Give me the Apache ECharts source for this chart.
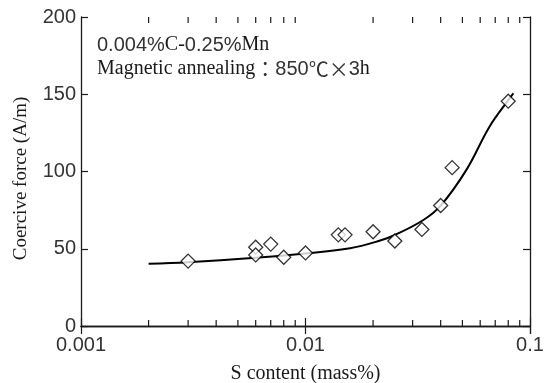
<!DOCTYPE html>
<html>
<head>
<meta charset="utf-8">
<script src="https://cdn.jsdelivr.net/npm/echarts@6/dist/echarts.min.js"></script>
<style>
  html, body { margin: 0; padding: 0; background: #fff; }
  #chart { width: 548px; height: 383px; }
</style>
</head>
<body>
<div id="chart"></div>
<script>
// measured points (S content in mass%, coercive force in A/m)
const sContent = [0.003, 0.006, 0.006, 0.007, 0.008, 0.01, 0.014, 0.015, 0.02, 0.025, 0.033, 0.04, 0.045, 0.08]
const coerciveForce = [42, 51, 46, 53, 44.5, 47.3, 59, 59, 61, 55, 62.5, 78, 102.5, 145.5]

// hand-drawn trend curve
const curveS = [0.002, 0.003, 0.006, 0.01, 0.0158, 0.0215, 0.025, 0.0335, 0.04, 0.052, 0.066, 0.08, 0.0843]
const curveForce = [40.3, 41.3, 44.2, 47, 50.3, 55.3, 58.9, 68.6, 77.9, 100.9, 129, 146.2, 150.6]

// minor ticks of the log axis
const minorTicksX = [0.002, 0.003, 0.004, 0.005, 0.006, 0.007, 0.008, 0.009,
  0.02, 0.03, 0.04, 0.05, 0.06, 0.07, 0.08, 0.09]

const X_MIN = 0.001, X_MAX = 0.1
const Y_MIN = 0, Y_MAX = 200, Y_STEP = 50

const SANS = "'Liberation Sans', Arial, sans-serif"
const SERIF = "'Liberation Serif', 'Times New Roman', serif"
const CJK = "'Noto Sans CJK JP', sans-serif"
const INK = '#1a1a1a'
const NUM = '#333'

const chart = echarts.init(document.getElementById('chart'), null, { renderer: 'canvas' })

const axisLine = { show: true, lineStyle: { color: INK, width: 1.3 } }

const option = {
  animation: false,
  backgroundColor: '#fff',
  grid: { left: 81, right: 18, top: 17, bottom: 57, containLabel: false, outerBoundsMode: 'none' },
  xAxis: [
    {
      type: 'log', logBase: 10, min: X_MIN, max: X_MAX,
      position: 'bottom',
      axisLine,
      axisTick: { show: true, inside: true, length: 8, lineStyle: { color: INK, width: 1.2 } },
      axisLabel: {
        color: NUM, fontFamily: SANS, fontSize: 20, margin: 9,
        formatter: v => String(Number(v.toPrecision(2)))
      },
      splitLine: { show: false },
      name: 'S content (mass%)',
      nameLocation: 'middle', nameGap: 38, nameMoveOverlap: false,
      nameTextStyle: { color: INK, fontFamily: SERIF, fontSize: 20 }
    },
    {
      type: 'log', logBase: 10, min: X_MIN, max: X_MAX,
      position: 'top',
      axisLine,
      axisTick: { show: true, inside: true, length: 8, lineStyle: { color: INK, width: 1.2 } },
      axisLabel: { show: false },
      splitLine: { show: false }
    }
  ],
  yAxis: [
    {
      type: 'value', min: Y_MIN, max: Y_MAX, interval: Y_STEP,
      position: 'left',
      axisLine,
      axisTick: { show: true, inside: true, length: 7, lineStyle: { color: INK, width: 1.2 } },
      axisLabel: { color: NUM, fontFamily: SANS, fontSize: 20, margin: 5 },
      splitLine: { show: false },
      name: 'Coercive force (A/m)',
      nameLocation: 'middle', nameRotate: 90, nameGap: 50, nameMoveOverlap: false,
      nameTextStyle: { color: INK, fontFamily: SERIF, fontSize: 19, padding: [0, 14, 0, 0] }
    },
    {
      type: 'value', min: Y_MIN, max: Y_MAX, interval: Y_STEP,
      position: 'right',
      axisLine,
      axisTick: { show: true, inside: true, length: 7, lineStyle: { color: INK, width: 1.2 } },
      axisLabel: { show: false },
      splitLine: { show: false }
    }
  ],
  graphic: [
    {
      type: 'text', left: 97, top: 35, z: 10,
      style: {
        text: '{s|0.004%}{r|C-}{s|0.25%}{r|Mn}',
        rich: {
          s: { fontFamily: SANS, fontSize: 20, fill: NUM },
          r: { fontFamily: SERIF, fontSize: 20, fill: INK }
        }
      }
    },
    {
      type: 'text', left: 97, top: 59, z: 10,
      style: {
        text: '{r|Magnetic annealing}{j|：}{s|850}{j|℃×}{s|3}{r|h}',
        rich: {
          s: { fontFamily: SANS, fontSize: 20, fill: NUM },
          r: { fontFamily: SERIF, fontSize: 20, fill: INK },
          j: { fontFamily: CJK, fontSize: 20, fill: NUM }
        }
      }
    }
  ],
  series: [
    {
      type: 'custom',
      xAxisIndex: 0, yAxisIndex: 0,
      silent: true,
      data: minorTicksX.map(v => [v, Y_MIN]),
      encode: { x: 0, y: 1 },
      renderItem: (params, api) => {
        const bottom = api.coord([api.value(0), Y_MIN])
        const top = api.coord([api.value(0), Y_MAX])
        const style = { stroke: INK, lineWidth: 1.2 }
        return {
          type: 'group',
          children: [
            { type: 'line', shape: { x1: bottom[0], y1: bottom[1], x2: bottom[0], y2: bottom[1] - 6 }, style },
            { type: 'line', shape: { x1: top[0], y1: top[1], x2: top[0], y2: top[1] + 6 }, style }
          ]
        }
      }
    },
    {
      type: 'line',
      data: curveS.map((s, i) => [s, curveForce[i]]),
      smooth: 0.4,
      showSymbol: false,
      lineStyle: { color: '#000', width: 2 },
      z: 2
    },
    {
      type: 'scatter',
      data: sContent.map((s, i) => [s, coerciveForce[i]]),
      symbol: 'diamond',
      symbolSize: 14,
      itemStyle: { color: '#fff', borderColor: '#000', borderWidth: 1.3 },
      z: 3
    }
  ]
}

chart.setOption(option)
</script>
</body>
</html>
